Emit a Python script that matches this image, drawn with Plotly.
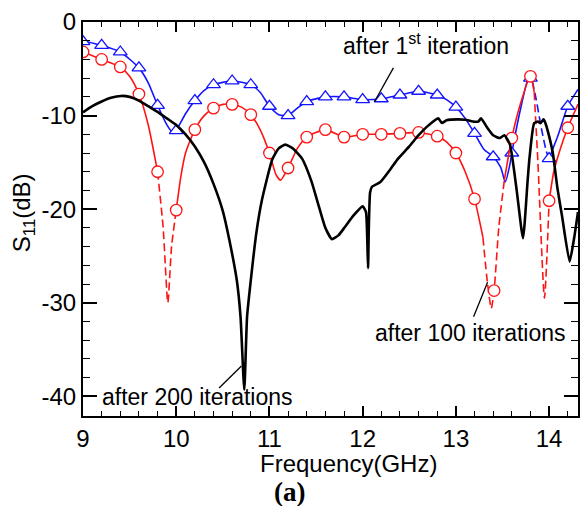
import plotly.graph_objects as go

# ---------------- data ----------------
# after 1st iteration (blue) - curve
blue_f = [9.0, 9.2, 9.4, 9.6, 9.7, 9.8, 9.9, 9.97, 10.0, 10.1, 10.2, 10.3, 10.4, 10.6, 10.8, 10.9, 11.0,
          11.1, 11.2, 11.3, 11.4, 11.6, 11.8, 12.0, 12.2, 12.4, 12.6, 12.8, 12.9, 13.0, 13.1, 13.2,
          13.3, 13.4, 13.48, 13.53, 13.58, 13.6, 13.7, 13.78, 13.82, 13.86, 13.92, 13.97, 14.0,
          14.1, 14.2, 14.31]
blue_s = [-2.0, -2.5, -3.2, -4.9, -6.5, -8.9, -11.0, -11.9, -11.6, -9.8, -8.4, -7.3, -6.7, -6.3, -6.7, -7.5, -9.0,
          -9.9, -10.0, -9.2, -8.5, -8.0, -8.0, -8.3, -8.2, -7.8, -7.4, -7.8, -8.3, -9.1, -10.3, -11.9,
          -13.6, -14.4, -15.5, -17.1, -15.2, -14.0, -9.0, -6.0, -6.3, -8.2, -11.5, -13.8, -14.6,
          -12.0, -9.0, -7.2]
blue_mk_f = [9.0, 9.2, 9.4, 9.6, 9.8, 10.0, 10.2, 10.4, 10.6, 10.8, 11.0, 11.2, 11.4, 11.6, 11.8, 12.0,
             12.2, 12.4, 12.6, 12.8, 13.0, 13.2, 13.4, 13.6, 13.8, 14.0, 14.2]
blue_mk_s = [-2.1, -2.5, -3.2, -4.9, -8.9, -11.6, -8.4, -6.7, -6.3, -6.7, -9.0, -10.0, -8.5, -8.0, -8.0, -8.3,
             -8.2, -7.8, -7.4, -7.8, -9.1, -11.9, -14.4, -14.0, -6.0, -14.6, -9.0]
blue_dashed = [(13.84, 14.0)]

# after 100 iterations (red) - curve
red_f = [9.0, 9.2, 9.4, 9.5, 9.6, 9.7, 9.8, 9.86, 9.91, 9.95, 10.0, 10.05, 10.1, 10.2, 10.3, 10.4, 10.5,
         10.6, 10.7, 10.8, 10.9, 11.0, 11.07, 11.12, 11.2, 11.3, 11.4, 11.6, 11.8, 12.0, 12.2, 12.4,
         12.6, 12.8, 12.9, 13.0, 13.1, 13.2, 13.29, 13.34, 13.38, 13.41, 13.46, 13.52, 13.6, 13.7,
         13.8, 13.84, 13.88, 13.95, 14.0, 14.05, 14.1, 14.2, 14.31]
red_s = [-3.2, -4.0, -4.8, -5.8, -7.7, -11.0, -16.0, -22.0, -30.0, -24.0, -20.1, -16.5, -14.0, -11.5, -10.0, -9.2, -8.8,
         -8.8, -9.1, -9.9, -11.5, -14.0, -16.3, -16.9, -15.6, -13.5, -12.3, -11.5, -12.3, -12.0, -12.0, -11.9,
         -11.8, -12.2, -12.8, -14.0, -16.0, -18.9, -23.0, -28.0, -30.6, -28.7, -22.0, -16.9, -12.4, -8.5,
         -5.8, -7.5, -15.0, -29.5, -19.1, -16.0, -14.2, -11.3, -8.8]
red_mk_f = [9.0, 9.2, 9.4, 9.6, 9.8, 10.0, 10.2, 10.4, 10.6, 10.8, 11.0, 11.2, 11.4, 11.6, 11.8, 12.0,
            12.2, 12.4, 12.6, 12.8, 13.0, 13.2, 13.41, 13.6, 13.8, 14.0, 14.2]
red_mk_s = [-3.2, -4.0, -4.8, -7.7, -16.0, -20.1, -11.5, -9.2, -8.8, -9.9, -14.0, -15.6, -12.3, -11.5, -12.3, -12.0,
            -12.0, -11.9, -11.8, -12.2, -14.0, -18.9, -28.7, -12.4, -5.8, -19.1, -11.3]
red_dashed = [(9.8, 10.0), (13.29, 13.52), (13.84, 14.0)]

# after 200 iterations (black) - curve
black_f = [9.0, 9.1, 9.2, 9.3, 9.41, 9.5, 9.6, 9.7, 9.8, 9.9, 10.0, 10.1, 10.2, 10.3, 10.4, 10.5, 10.57,
           10.65, 10.69, 10.73, 10.76, 10.8, 10.86, 10.92, 11.03, 11.1, 11.17, 11.25, 11.35, 11.45, 11.53,
           11.6, 11.67, 11.74, 11.81, 11.9, 12.0, 12.035, 12.05, 12.058, 12.066, 12.08, 12.1, 12.19, 12.3,
           12.38, 12.5, 12.6, 12.7, 12.81, 12.85, 12.9, 13.02, 13.1, 13.2, 13.24, 13.27, 13.33, 13.4, 13.47,
           13.52, 13.58, 13.65, 13.72, 13.77, 13.79, 13.84, 13.88, 13.91, 13.94, 13.96, 14.0, 14.04, 14.09,
           14.14, 14.22, 14.27, 14.31]
black_s = [-9.65, -9.0, -8.5, -8.1, -7.9, -8.0, -8.4, -9.0, -9.6, -10.3, -11.0, -12.0, -13.3, -15.0, -17.3, -20.2, -23.3,
           -27.6, -31.5, -39.3, -31.5, -27.6, -22.5, -19.0, -14.7, -13.5, -13.1, -13.5, -14.6, -17.0, -19.7,
           -22.0, -23.2, -22.8, -21.9, -20.7, -19.7, -20.3, -23.5, -26.3, -22.0, -18.2, -17.6, -17.1, -15.7,
           -14.6, -13.3, -12.1, -11.1, -10.3, -10.8, -10.5, -10.4, -10.45, -10.65, -10.65, -10.3, -11.2, -12.1, -12.4,
           -12.1, -13.1, -17.8, -23.1, -16.9, -14.5, -10.8, -10.65, -10.8, -10.4, -10.8, -12.2, -14.0, -17.8,
           -20.8, -25.6, -23.0, -20.3]

x_ticks = [9, 10, 11, 12, 13, 14]
x_ticklabels = ["9", "10", "11", "12", "13", "14"]
y_ticks = [0, -10, -20, -30, -40]
y_ticklabels = ["0", "-10", "-20", "-30", "-40"]

RED = "rgb(255,20,20)"
BLUE = "rgb(20,20,255)"
FONT = "Liberation Sans, Arial, sans-serif"


def split_segments(xs, ys, dashed):
    """Split a curve into runs of solid / dashed pieces (sharing boundary points)."""
    def is_dashed(xm):
        return any(a <= xm <= b for a, b in dashed)
    segs = []
    cur_x, cur_y, cur_d = [xs[0]], [ys[0]], None
    for i in range(len(xs) - 1):
        d = is_dashed(0.5 * (xs[i] + xs[i + 1]))
        if cur_d is None or d == cur_d:
            cur_x.append(xs[i + 1]); cur_y.append(ys[i + 1]); cur_d = d
        else:
            segs.append((cur_x, cur_y, cur_d))
            cur_x, cur_y, cur_d = [xs[i], xs[i + 1]], [ys[i], ys[i + 1]], d
    segs.append((cur_x, cur_y, cur_d))
    return segs


fig = go.Figure()

for xs, ys, d in split_segments(blue_f, blue_s, blue_dashed):
    fig.add_trace(go.Scatter(x=xs, y=ys, mode="lines", showlegend=False,
                             line=dict(color=BLUE, width=1.6, shape="spline", smoothing=0.6,
                                       dash="8px,4px" if d else "solid")))
fig.add_trace(go.Scatter(x=blue_mk_f, y=blue_mk_s, mode="markers", showlegend=False,
                         marker=dict(symbol="triangle-up", size=12, color="white",
                                     line=dict(color=BLUE, width=1.3))))

for xs, ys, d in split_segments(red_f, red_s, red_dashed):
    fig.add_trace(go.Scatter(x=xs, y=ys, mode="lines", showlegend=False,
                             line=dict(color=RED, width=1.6, shape="spline", smoothing=0.6,
                                       dash="8px,4px" if d else "solid")))
fig.add_trace(go.Scatter(x=red_mk_f, y=red_mk_s, mode="markers", showlegend=False,
                         marker=dict(symbol="circle", size=11.5, color="white",
                                     line=dict(color=RED, width=1.3))))

fig.add_trace(go.Scatter(x=black_f, y=black_s, mode="lines", showlegend=False,
                         line=dict(color="black", width=2.6, shape="spline", smoothing=0.5)))

# leader lines for annotations
leaders = [((12.33, -4.9), (12.125, -8.55)),
           ((13.19, -31.5), (13.34, -27.8)),
           ((10.46, -39.1), (10.70, -36.75))]
for (x0, y0), (x1, y1) in leaders:
    fig.add_shape(type="line", xref="x", yref="y", x0=x0, y0=y0, x1=x1, y1=y1,
                  line=dict(color="black", width=1.3))

ann_font = dict(family=FONT, size=23, color="black")
fig.add_annotation(x=12.675, y=-2.35, xref="x", yref="y", text="after 1<sup>st</sup> iteration",
                   showarrow=False, font=ann_font, xanchor="center", yanchor="middle")
fig.add_annotation(x=13.16, y=-33.2, xref="x", yref="y", text="after 100 iterations",
                   showarrow=False, font=ann_font, xanchor="center", yanchor="middle")
fig.add_annotation(x=10.23, y=-40.1, xref="x", yref="y", text="after 200 iterations",
                   showarrow=False, font=ann_font, xanchor="center", yanchor="middle")

# axis titles
fig.add_annotation(x=-0.121, y=0.515, xref="paper", yref="paper", text="S<sub>11</sub>(dB)",
                   textangle=-90, showarrow=False, xanchor="center", yanchor="middle",
                   font=dict(family=FONT, size=24, color="black"))
fig.add_annotation(x=0.537, y=-0.12, xref="paper", yref="paper", text="Frequency(GHz)",
                   showarrow=False, xanchor="center", yanchor="middle",
                   font=dict(family=FONT, size=24, color="black"))
fig.add_annotation(x=0.4165, y=-0.193, xref="paper", yref="paper", text="<b>(a)</b>",
                   showarrow=False, xanchor="center", yanchor="middle",
                   font=dict(family="Liberation Serif, Times New Roman, serif", size=27, color="black"))

fig.update_layout(
    width=582, height=506,
    margin=dict(l=83, r=2, t=22, b=90),
    plot_bgcolor="white", paper_bgcolor="white",
    font=dict(family=FONT, size=24, color="black"),
    xaxis=dict(range=[9, 14.31], tickvals=x_ticks, ticktext=x_ticklabels,
               showgrid=False, zeroline=False, showline=True, linecolor="black", linewidth=2,
               mirror="ticks", ticks="inside", ticklen=10, tickwidth=1.5, tickcolor="black",
               minor=dict(dtick=0.2, ticks="inside", ticklen=5, tickwidth=1.2, tickcolor="black", showgrid=False),
               tickfont=dict(family=FONT, size=24)),
    yaxis=dict(range=[-42.1, 0], tickvals=y_ticks, ticktext=y_ticklabels,
               showgrid=False, zeroline=False, showline=True, linecolor="black", linewidth=2,
               mirror="ticks", ticks="inside", ticklen=14, tickwidth=1.5, tickcolor="black",
               minor=dict(dtick=2, ticks="inside", ticklen=7, tickwidth=1.2, tickcolor="black", showgrid=False),
               tickfont=dict(family=FONT, size=24)),
)

fig.write_html("out.html")
